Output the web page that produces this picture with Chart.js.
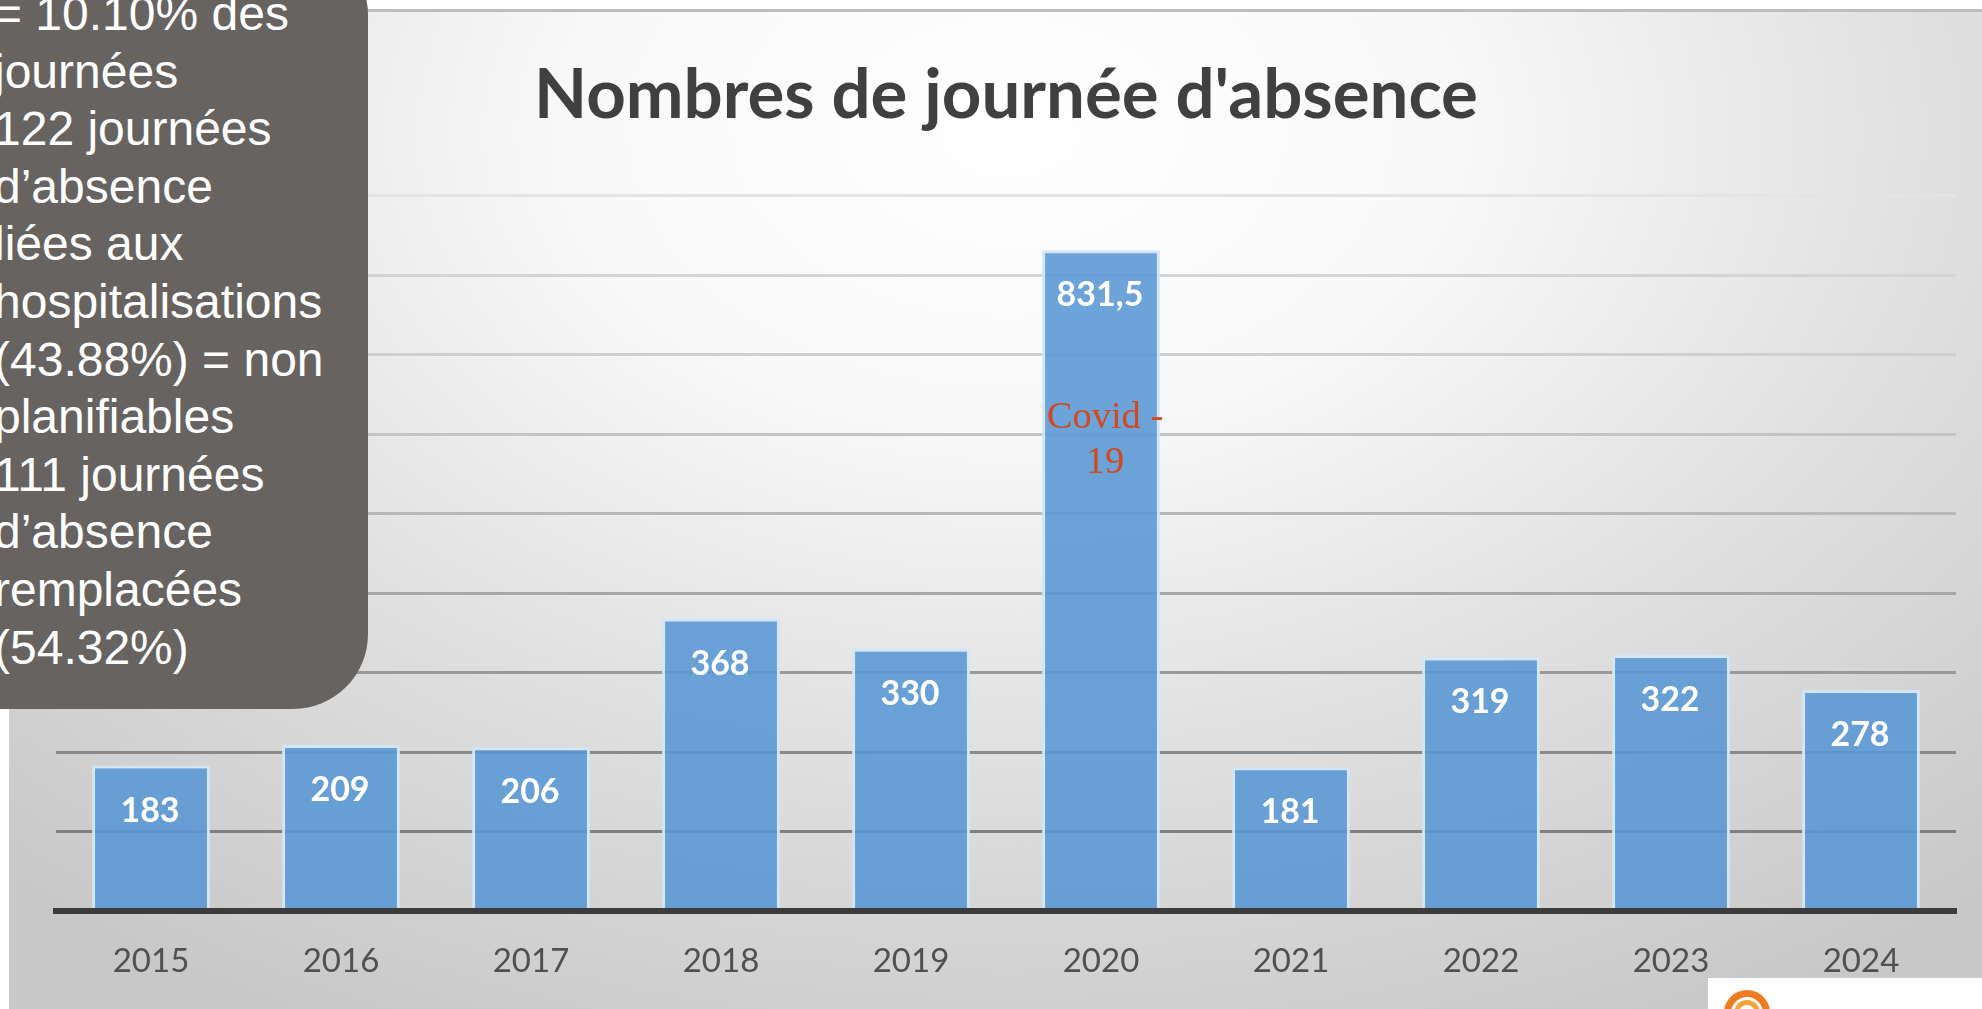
<!DOCTYPE html>
<html lang="fr">
<head>
<meta charset="utf-8">
<title>Nombres de journée d'absence</title>
<script src="https://cdn.jsdelivr.net/npm/chart.js@4"></script>
<style>
html, body { margin: 0; padding: 0; background: #fff; overflow: hidden; }
#page { position: relative; width: 1982px; height: 1009px; overflow: hidden; background: #fff; }
#panel {
  position: absolute; left: 9px; top: 9px; right: 0; bottom: 0;
  border-top: 3px solid #bdbdbd;
  background: radial-gradient(ellipse 1500px 1000px at 1000px 120px, #fff 0%, #f8f8f8 30%, #e0e0e0 62%, #c8c8c8 100%);
}
#chartBox { position: absolute; left: 0; top: 0; width: 1982px; height: 1009px; }
#note {
  position: absolute; left: -40px; top: -60px; width: 408px; height: 769px;
  background: #676361; border-radius: 0 75px 75px 0;
  color: #fff; font: 48px/57.6px "Liberation Sans", Arial, sans-serif;
}
#noteText { position: absolute; left: 34px; top: 45px; white-space: pre; }
#logo { position: absolute; left: 1708px; top: 978px; width: 274px; height: 31px; background: #fff; overflow: hidden; }
#logo div { position: absolute; left: 16px; top: 12px; width: 46px; height: 46px; box-sizing: border-box; border-radius: 50%; border: 7px solid #ee7d22; }
#logo div div { left: 3px; top: 3px; width: 26px; height: 26px; border: 5px solid #f4a23a; }
</style>
</head>
<body>
<div id="page">
  <div id="panel"></div>
  <div id="chartBox"><canvas id="absences" width="1982" height="1009"></canvas></div>
  <div id="note"><div id="noteText"></div></div>
  <div id="logo"><div><div></div></div></div>
</div>
<script>
const years = ['2015', '2016', '2017', '2018', '2019', '2020', '2021', '2022', '2023', '2024']
const absenceDays = [183, 209, 206, 368, 330, 831.5, 181, 319, 322, 278]
const barLabels = ['183', '209', '206', '368', '330', '831,5', '181', '319', '322', '278']
const covidLines = ['Covid -', '19']
const noteLines = [
  '= 10.10% des', 'journées', '122 journées', 'd’absence', 'liées aux', 'hospitalisations',
  '(43.88%) = non', 'planifiables', '111 journées', 'd’absence', 'remplacées', '(54.32%)'
]

document.getElementById('noteText').textContent = noteLines.join('\n')

// grid gets darker towards the bottom, index = tick value / 100
const gridShades = ['#808080', '#808080', '#8a8a8a', '#9a9a9a', '#a8a8a8', '#b8b8b8', '#c4c4c4', '#cfcfcf', '#d4d4d4', '#e4e4e4']

// values written inside the bars + the covid note
const barText = {
  id: 'barText',
  afterDatasetsDraw(chart) {
    const c = chart.ctx
    const bars = chart.getDatasetMeta(0).data
    c.save()
    c.textAlign = 'center'
    c.textBaseline = 'middle'
    c.fillStyle = '#fff'
    c.font = 'bold 34px Lato, sans-serif'
    bars.forEach((bar, i) => c.fillText(barLabels[i], bar.x - 1, bar.y + 45))

    const covid = bars[years.indexOf('2020')]
    c.fillStyle = '#d2491d'
    c.font = '38.5px "Liberation Serif", serif'
    c.textBaseline = 'alphabetic'
    covidLines.forEach((line, i) => {
      c.fillText(line, covid.x + 4, chart.scales.y.getPixelForValue(608) + i * 45)
    })
    c.restore()
  }
}

new Chart(document.getElementById('absences'), {
  type: 'bar',
  data: {
    labels: years,
    datasets: [{
      data: absenceDays,
      backgroundColor: 'rgba(88, 150, 212, 0.88)',
      borderColor: '#d3e6f7',
      borderWidth: 3,
      borderSkipped: 'bottom',
      barPercentage: 0.62,
      categoryPercentage: 1
    }]
  },
  options: {
    responsive: false,
    animation: false,
    layout: { padding: { left: 56, right: 26, top: 0, bottom: 0 } },
    plugins: {
      legend: { display: false },
      tooltip: { enabled: false },
      title: {
        display: true,
        text: "Nombres de journée d'absence",
        fullSize: false,
        color: '#404040',
        font: { family: 'Lato, sans-serif', size: 69, weight: 'bold', lineHeight: 1.2 },
        padding: { top: 54, bottom: 59 }
      }
    },
    scales: {
      x: {
        afterFit(scale) { scale.height = 98 },
        grid: { display: false, drawTicks: false },
        border: { color: '#3c3c3c', width: 6, z: 2 },
        ticks: { color: '#505050', padding: 31, font: { family: 'Lato, sans-serif', size: 33 } }
      },
      y: {
        min: 0,
        max: 900,
        ticks: { display: false, stepSize: 100 },
        border: { display: false },
        grid: {
          drawTicks: false,
          lineWidth: 3,
          color: (ctx) => gridShades[Math.round(ctx.tick.value / 100)]
        }
      }
    }
  },
  plugins: [barText]
})
</script>
</body>
</html>
